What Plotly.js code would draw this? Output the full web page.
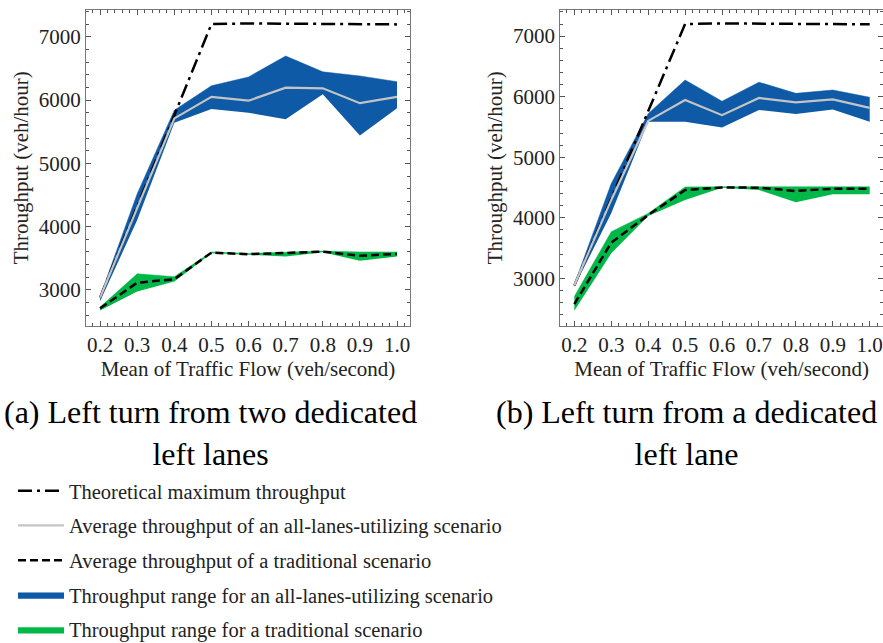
<!DOCTYPE html>
<html>
<head>
<meta charset="utf-8">
<script src="https://cdn.plot.ly/plotly-3.0.1.min.js"></script>
<style>html,body{margin:0;padding:0;background:#fff;}#chart{width:883px;height:643px;}</style>
</head>
<body>
<div id="chart"></div>
<script>
// ---- data ----
const flow = [0.2, 0.3, 0.4, 0.5, 0.6, 0.7, 0.8, 0.9, 1.0];

// (a) two dedicated left lanes
const a_theoretical = [2880, 4320, 5760, 7200, 7210, 7205, 7205, 7200, 7195];
const a_allLanesMean = [2880, 4310, 5710, 6050, 5990, 6195, 6185, 5950, 6050];
const a_allLanesUpper = [2900, 4520, 5840, 6225, 6365, 6695, 6445, 6380, 6290];
const a_allLanesLower = [2820, 4105, 5640, 5860, 5800, 5695, 6090, 5440, 5870];
const a_tradMean = [2710, 3115, 3170, 3590, 3565, 3580, 3605, 3540, 3570];
const a_tradUpper = [2730, 3255, 3210, 3600, 3578, 3597, 3615, 3600, 3600];
const a_tradLower = [2675, 2975, 3135, 3580, 3555, 3528, 3595, 3460, 3528];

// (b) one dedicated left lane
const b_theoretical = [2880, 4320, 5760, 7200, 7210, 7205, 7205, 7200, 7195];
const b_allLanesMean = [2885, 4295, 5600, 5945, 5695, 5980, 5905, 5955, 5815];
const b_allLanesUpper = [2900, 4565, 5720, 6275, 5925, 6240, 6055, 6110, 5990];
const b_allLanesLower = [2860, 4075, 5585, 5585, 5490, 5780, 5715, 5790, 5585];
const b_tradMean = [2575, 3590, 4045, 4458, 4502, 4497, 4442, 4480, 4480];
const b_tradUpper = [2700, 3770, 4073, 4510, 4512, 4512, 4512, 4512, 4512];
const b_tradLower = [2465, 3413, 4029, 4293, 4497, 4458, 4255, 4388, 4388];

const xTickVals = [0.2, 0.3, 0.4, 0.5, 0.6, 0.7, 0.8, 0.9, 1.0];
const xTickText = ['0.2', '0.3', '0.4', '0.5', '0.6', '0.7', '0.8', '0.9', '1.0'];
const yTickVals = [3000, 4000, 5000, 6000, 7000];
const yTickText = ['3000', '4000', '5000', '6000', '7000'];

const names = {
  theo: 'Theoretical maximum throughput',
  allMean: 'Average throughput of an all-lanes-utilizing scenario',
  tradMean: 'Average throughput of a traditional scenario',
  allRange: 'Throughput range for an all-lanes-utilizing scenario',
  tradRange: 'Throughput range for a traditional scenario'
};
const captions = ['(a) Left turn from two dedicated<br>left lanes', '(b) Left turn from a dedicated<br>left lane'];

// ---- styles ----
const BLUE = '#0e5aa6';
const GREEN = '#00b848';
const GRAY = '#c4c4c4';
const SERIF = '"Liberation Serif", "Times New Roman", serif';

function panel(xa, ya, d, legend) {
  const [theo, am, au, al, tm, tu, tl] = d;
  return [
    {x: flow, y: al, xaxis: xa, yaxis: ya, mode: 'lines', line: {width: 0, color: BLUE}, showlegend: false, hoverinfo: 'skip'},
    {x: flow, y: au, xaxis: xa, yaxis: ya, mode: 'lines', fill: 'tonexty', fillcolor: BLUE, line: {width: 0.5, color: BLUE}, name: names.allRange, showlegend: legend, legendrank: 4, legendgroup: 'g4'},
    {x: flow, y: tl, xaxis: xa, yaxis: ya, mode: 'lines', line: {width: 0, color: GREEN}, showlegend: false, hoverinfo: 'skip'},
    {x: flow, y: tu, xaxis: xa, yaxis: ya, mode: 'lines', fill: 'tonexty', fillcolor: GREEN, line: {width: 0.5, color: GREEN}, name: names.tradRange, showlegend: legend, legendrank: 5, legendgroup: 'g5'},
    {x: flow, y: theo, xaxis: xa, yaxis: ya, mode: 'lines', line: {color: '#000', width: 2.5, dash: '14px,5px,3px,5px'}, name: names.theo, showlegend: legend, legendrank: 1, legendgroup: 'g1'},
    {x: flow, y: am, xaxis: xa, yaxis: ya, mode: 'lines', line: {color: GRAY, width: 2.2}, name: names.allMean, showlegend: legend, legendrank: 2, legendgroup: 'g2'},
    {x: flow, y: tm, xaxis: xa, yaxis: ya, mode: 'lines', line: {color: '#000', width: 2.5, dash: '8px,4px'}, name: names.tradMean, showlegend: legend, legendrank: 3, legendgroup: 'g3'}
  ];
}

const data = [
  ...panel('x', 'y', [a_theoretical, a_allLanesMean, a_allLanesUpper, a_allLanesLower, a_tradMean, a_tradUpper, a_tradLower], true),
  ...panel('x2', 'y2', [b_theoretical, b_allLanesMean, b_allLanesUpper, b_allLanesLower, b_tradMean, b_tradUpper, b_tradLower], false)
];

const W = 883, H = 643;
function xAxis(l, r, range) {
  return {
    domain: [l / W, r / W], range: range,
    tickvals: xTickVals, ticktext: xTickText,
    ticks: 'inside', ticklen: 5, tickwidth: 1, tickcolor: '#555',
    minor: {ticks: 'inside', dtick: 0.02, tick0: 0, ticklen: 3, tickcolor: '#555', showgrid: false},
    showline: true, linecolor: '#777', linewidth: 1, mirror: 'ticks',
    showgrid: false, zeroline: false, ticklabeloverflow: 'allow',
    tickfont: {family: SERIF, size: 21, color: '#222'},
    title: {text: 'Mean of Traffic Flow (veh/second)', font: {family: SERIF, size: 21, color: '#222'}, standoff: 4}
  };
}
function yAxis(range, anchor) {
  return {
    domain: [1 - 326 / H, 1 - 9.5 / H], range: range, anchor: anchor,
    tickvals: yTickVals, ticktext: yTickText,
    ticks: 'inside', ticklen: 5, tickwidth: 1, tickcolor: '#555',
    minor: {ticks: 'inside', dtick: 200, tick0: 0, ticklen: 3, tickcolor: '#555', showgrid: false},
    showline: true, linecolor: '#777', linewidth: 1, mirror: 'ticks',
    showgrid: false, zeroline: false,
    tickfont: {family: SERIF, size: 21, color: '#222'},
    title: {text: 'Throughput (veh/hour)', font: {family: SERIF, size: 21, color: '#222'}, standoff: 4}
  };
}

const layout = {
  width: W, height: H,
  margin: {l: 0, r: 0, t: 0, b: 0, autoexpand: false},
  paper_bgcolor: '#fff', plot_bgcolor: '#fff',
  showlegend: true,
  xaxis: Object.assign(xAxis(86, 410, [0.162, 1.035]), {anchor: 'y'}),
  yaxis: yAxis([2431, 7430], 'x'),
  xaxis2: Object.assign(xAxis(560.3, 883.5, [0.162, 1.036]), {anchor: 'y2'}),
  yaxis2: yAxis([2213, 7440], 'x2'),
  legend: {
    x: 13 / W, y: 1 - 471 / H, xanchor: 'left', yanchor: 'top',
    bgcolor: 'rgba(0,0,0,0)', borderwidth: 0,
    font: {family: SERIF, size: 20.5, color: '#222'},
    itemwidth: 46, traceorder: 'grouped', tracegroupgap: 5
  },
  annotations: [
    {text: captions[0], xref: 'paper', yref: 'paper', x: 210 / W, y: 1 - 433 / H, xanchor: 'center', yanchor: 'middle', showarrow: false, align: 'center', font: {family: SERIF, size: 32, color: '#000'}},
    {text: captions[1], xref: 'paper', yref: 'paper', x: 686 / W, y: 1 - 433 / H, xanchor: 'center', yanchor: 'middle', showarrow: false, align: 'center', font: {family: SERIF, size: 32, color: '#000'}}
  ]
};

Plotly.newPlot('chart', data, layout, {displayModeBar: false, staticPlot: true});
</script>
</body>
</html>
